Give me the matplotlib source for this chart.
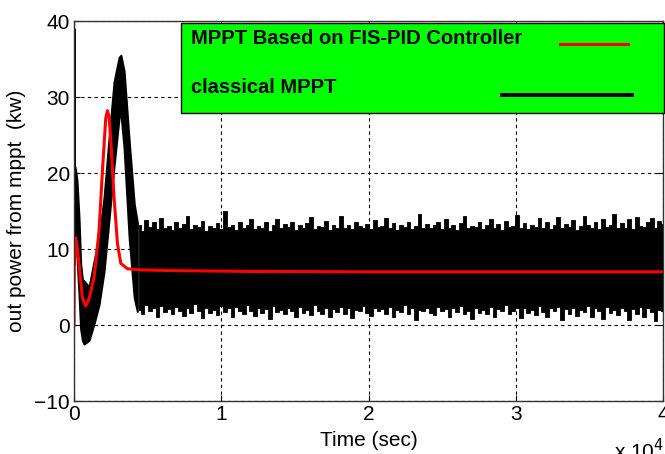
import numpy as np
import matplotlib.pyplot as plt
from matplotlib.patches import Rectangle

plt.rcParams['font.family'] = ['Liberation Sans', 'DejaVu Sans']

# FIS-PID controller (red)
t_fis = [0, 20, 110, 200, 340, 570, 790, 1000, 1360, 1700, 1930, 2155, 2270, 2380,
         2500, 2720, 2950, 3180, 3630, 4540, 7000, 12000, 20000, 30000, 40000]
p_fis = [0, 8.4, 11.5, 10.5, 8.0, 3.6, 2.5, 3.3, 6.2, 12.4, 20.3, 27.2, 28.2, 27.4,
         24.2, 16.8, 10.7, 8.1, 7.4, 7.25, 7.15, 7.05, 7.0, 7.0, 7.0]

# classical MPPT (black) - transient envelope
t_cls = [0, 30, 100, 200, 340, 450, 570, 680, 1020, 1360, 1700, 2040, 2380, 2720,
         3060, 3180, 3400, 3745, 4090, 4300]
hi_cls = [39, 21, 20.5, 19, 14, 8, 6, 5.8, 5.0, 8.4, 11.5, 16.8, 24.6, 32,
          35.2, 35.5, 33.4, 24.2, 15.9, 13.5]
lo_cls = [8, 12, 12, 9, 4, -0.5, -2, -2.5, -2, 0.2, 2.7, 7.1, 14, 21,
          27.3, 28, 23.3, 11.5, 3.6, 1.8]

# classical MPPT - steady state ripple peaks (upper / lower)
hi_ss = [13.2, 12.4, 13.8, 12.9, 13.5, 12.6, 14.1, 12.8, 13.0, 12.5,
         13.6, 12.7, 13.3, 14.3, 12.6, 13.1, 12.9, 13.7, 12.4, 13.0,
         12.8, 13.4, 12.6, 15.0, 12.9, 13.2, 12.5, 13.6, 12.7, 13.1,
         13.9, 12.6, 13.0, 12.8, 13.5, 12.4, 13.2, 14.0, 12.7, 13.3,
         12.9, 13.6, 12.5, 13.1, 12.8, 13.4, 14.2, 12.6, 13.0, 12.9,
         13.7, 12.5, 13.2, 12.8, 14.4, 12.7, 13.1, 12.6, 13.5, 13.0,
         12.8, 13.3, 12.6, 13.8, 12.9, 13.0, 14.1, 12.7, 13.4, 12.5,
         13.2, 12.9, 13.6, 12.6, 13.0, 14.6, 12.8, 13.3, 12.7, 13.1,
         13.5, 12.6, 13.9, 12.8, 13.2, 12.5, 13.4, 14.3, 12.7, 13.0,
         12.9, 13.6, 12.6, 13.1, 14.0, 12.8, 13.3, 12.5, 13.7, 12.9,
         13.0, 14.5, 12.7, 13.4, 12.6, 13.2, 12.9, 14.1, 12.8, 13.5,
         12.6, 13.1, 14.2, 12.7, 13.3, 12.9, 13.8, 12.5, 13.0, 14.4,
         13.2, 12.8, 13.6, 12.6, 14.0, 12.9, 13.1, 14.6, 12.7, 13.4,
         12.8, 13.9, 12.6, 14.2, 13.0, 12.9, 13.5, 14.1, 12.8, 13.7,
         13.3]
lo_ss = [2.0, 1.4, 2.6, 1.8, 2.3, 1.1, 2.5, 1.7, 2.1, 1.5,
         2.4, 1.9, 1.2, 2.2, 1.6, 2.7, 1.8, 0.9, 2.3, 1.6,
         2.0, 1.3, 2.5, 1.7, 2.2, 1.0, 2.4, 1.8, 1.5, 2.6,
         1.9, 1.2, 2.3, 1.6, 2.1, 0.8, 2.5, 1.7, 2.0, 1.4,
         2.2, 1.8, 1.1, 2.4, 1.6, 2.0, 1.3, 2.6, 1.9, 1.5,
         2.3, 1.0, 2.1, 1.7, 2.4, 1.4, 2.2, 0.9, 2.0, 1.8,
         2.5, 1.6, 1.2, 2.3, 1.9, 2.1, 1.5, 2.4, 1.1, 2.0,
         1.7, 2.6, 1.4, 2.2, 0.7, 2.0, 1.8, 2.3, 1.6, 1.3,
         2.4, 1.9, 2.1, 1.0, 2.2, 1.7, 2.5, 1.5, 1.9, 0.8,
         2.3, 1.6, 2.0, 1.4, 2.4, 1.1, 2.1, 1.8, 2.6, 1.5,
         1.9, 2.2, 0.9, 2.3, 1.6, 2.0, 1.3, 2.5, 1.7, 1.0,
         2.2, 1.8, 2.4, 0.6, 2.1, 1.5, 2.3, 1.2, 2.0, 1.7,
         2.5, 1.1, 2.2, 1.9, 0.8, 2.4, 1.6, 2.0, 1.3, 2.3,
         1.8, 0.7, 2.1, 1.5, 2.4, 1.0, 2.2, 1.7, 0.5, 2.0,
         1.9]
t_ss = np.linspace(4400, 40000, len(hi_ss))

xticks = [0, 10000, 20000, 30000, 40000]
xtick_labels = ['0', '1', '2', '3', '4']
yticks = [-10, 0, 10, 20, 30, 40]

fig = plt.figure(figsize=(6.65, 4.54), dpi=100)
ax = fig.add_axes([0.1113, 0.1167, 0.8857, 0.837])

ax.fill_between(t_cls, lo_cls, hi_cls, color='black', lw=1.5)
ax.fill_between(t_ss, lo_ss, hi_ss, step='mid', color='black', lw=0.6)
ax.plot(t_fis, p_fis, color='red', lw=2.2)

ax.set_xlim(0, 40000)
ax.set_ylim(-10, 40)
ax.set_xticks(xticks)
ax.set_xticklabels(xtick_labels)
ax.set_yticks(yticks)
ax.tick_params(direction='in', length=4, labelsize=15, top=True, right=True, pad=3)
ax.grid(True, color='black', linestyle=(0, (3, 3)), lw=0.8)
for s in ax.spines.values():
    s.set_color('#333333')
    s.set_linewidth(1.0)

ax.set_xlabel('Time (sec)', fontsize=15, labelpad=5)
ax.set_ylabel('out power from mppt  (kw)', fontsize=15, labelpad=6)
fig.text(614 / 665, 1 - 438 / 454, 'x 10$^4$', fontsize=15, va='top', ha='left')

# legend box drawn like the MATLAB one
ax.add_patch(Rectangle((0.1817, 0.758), 0.82, 0.2367, transform=ax.transAxes,
                       facecolor='#00ff00', edgecolor='black', lw=1.0, zorder=5, clip_on=False))
ax.text(0.1986, 0.953, 'MPPT Based on FIS-PID Controller', transform=ax.transAxes,
        fontsize=14.5, fontweight='bold', va='center', zorder=6)
ax.text(0.1986, 0.826, 'classical MPPT', transform=ax.transAxes,
        fontsize=14.5, fontweight='bold', va='center', zorder=6)
ax.plot([0.825, 0.9406], [0.9395, 0.9395], color='red', lw=2.2, transform=ax.transAxes, zorder=6)
ax.plot([0.7267, 0.947], [0.805, 0.805], color='black', lw=2.8, transform=ax.transAxes, zorder=6)

fig.savefig('out.png', dpi=100)
